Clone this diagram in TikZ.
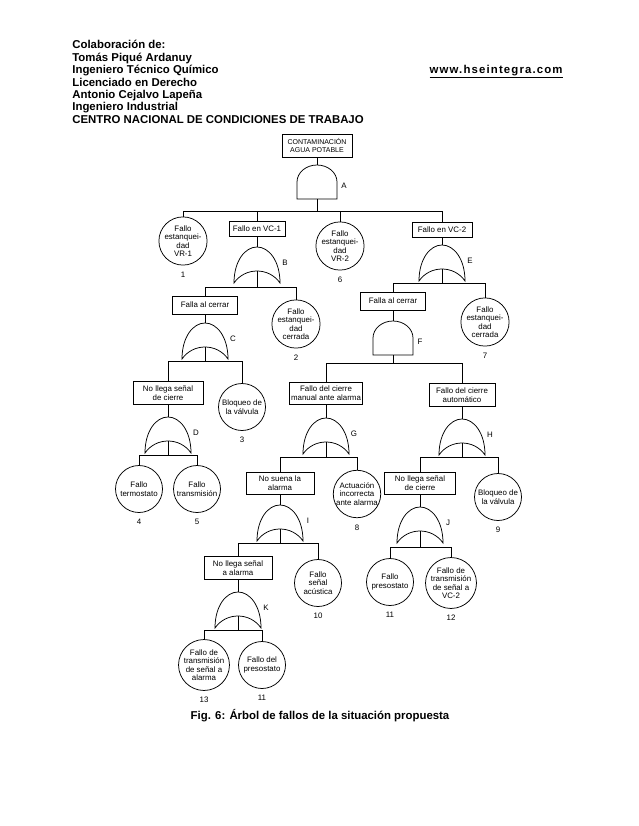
\documentclass[tikz,border=0pt]{standalone}
\usepackage{fontspec}
\setmainfont{Liberation Sans}
\usetikzlibrary{calc}
\newcommand{\dfont}{\fontsize{7.9}{8.4}\selectfont}
\newcommand{\tfont}{\fontsize{7}{8}\selectfont}
\newcommand{\hfont}{\fontsize{11.4}{13}\selectfont\bfseries}
\tikzset{
  pics/orgate/.style={code={
    \draw (-23,36) .. controls (-23,14) and (-12,0) .. (0,0) .. controls (12,0) and (23,14) .. (23,36) .. controls (12,20) and (-12,20) .. cycle;
    \coordinate (-top) at (0,0);
    \coordinate (-out) at (0,24);
    \node[gatelbl] (-lbl) at (28,16) {#1};
  }},
  pics/andgate/.style={code={
    \draw (-20,34) -- (-20,17) .. controls (-20,7.6) and (-11,0) .. (0,0) .. controls (11,0) and (20,7.6) .. (20,17) -- (20,34) -- cycle;
    \coordinate (-top) at (0,0);
    \coordinate (-out) at (0,34);
    \node[gatelbl] (-lbl) at (27,21) {#1};
  }},
}
\begin{document}
\begin{tikzpicture}[x=1pt,y=-1pt, line width=0.75pt,
  box/.style={draw, inner sep=1pt, align=center, font=\dfont},
  evt/.style={draw, circle, minimum size=47pt, inner sep=0pt, align=center, font=\dfont},
  num/.style={font=\dfont, inner sep=0pt, anchor=north},
  gatelbl/.style={font=\dfont, inner sep=0pt},
  hdr/.style={font=\hfont, anchor=base west, inner sep=0pt},
]
\fill[white] (0,0) rectangle (638,826);
\useasboundingbox (0,0) rectangle (638,826);

% header
\node[hdr] (h1) at (72,49) {Colaboración de:};
\node[hdr] (h2) at (72,61.4) {Tomás Piqué Ardanuy};
\node[hdr] (h3) at (72,73.8) {Ingeniero Técnico Químico};
\node[hdr] (h4) at (72,86.2) {Licenciado en Derecho};
\node[hdr] (h5) at (72,98.6) {Antonio Cejalvo Lapeña};
\node[hdr] (h6) at (72,111) {Ingeniero Industrial};
\node[hdr] (h7) at (72,123.4) {CENTRO NACIONAL DE CONDICIONES DE TRABAJO};
\node[hdr, anchor=base east] (url) at (563,73.8) {\addfontfeatures{LetterSpace=10}\underline{www.hseintegra.com}};

% boxes
\node[box, font=\tfont, minimum width=70pt, minimum height=23pt] (top) at (317,146) {CONTAMINACIÓN\\AGUA POTABLE};
\node[box, minimum width=56pt, minimum height=15pt] (vc1) at (257,229) {Fallo en VC-1};
\node[box, minimum width=60pt, minimum height=15pt] (vc2) at (442,230) {Fallo en VC-2};
\node[box, minimum width=65pt, minimum height=18pt] (fc1) at (205,305) {Falla al cerrar};
\node[box, minimum width=65pt, minimum height=18pt] (fc2) at (393,301) {Falla al cerrar};
\node[box, minimum width=70pt, minimum height=23pt] (nls1) at (168,393) {No llega señal\\de cierre};
\node[box, minimum width=73pt, minimum height=22pt] (man) at (326,393) {Fallo del cierre\\manual ante alarma};
\node[box, minimum width=66pt, minimum height=23pt] (aut) at (462,395) {Fallo del cierre\\automático};
\node[box, minimum width=68pt, minimum height=22pt] (nsa) at (280,483) {No suena la\\alarma};
\node[box, minimum width=71pt, minimum height=22pt] (nls2) at (420,483) {No llega señal\\de cierre};
\node[box, minimum width=68pt, minimum height=23pt] (nlsa) at (238,568) {No llega señal\\a alarma};

% basic events
\node[evt] (c1) at (183,241) {Fallo\\estanquei-\\dad\\VR-1};
\node[evt] (c6) at (340,246) {Fallo\\estanquei-\\dad\\VR-2};
\node[evt] (c2) at (296,324) {Fallo\\estanquei-\\dad\\cerrada};
\node[evt] (c7) at (485,322) {Fallo\\estanquei-\\dad\\cerrada};
\node[evt] (c3) at (242,407) {Bloqueo de\\la válvula};
\node[evt] (c4) at (139,489) {Fallo\\termostato};
\node[evt] (c5) at (197,489) {Fallo\\transmisión};
\node[evt] (c8) at (357,494) {Actuación\\incorrecta\\ante alarma};
\node[evt] (c9) at (498,497) {Bloqueo de\\la válvula};
\node[evt] (c10) at (318,583) {Fallo\\señal\\acústica};
\node[evt] (c11) at (390,582) {Fallo\\presostato};
\node[evt] (c12) at (451,583) {Fallo de\\transmisión\\de señal a\\VC-2};
\node[evt] (c13) at (204,665) {Fallo de\\transmisión\\de señal a\\alarma};
\node[evt] (c11b) at (262,665) {Fallo del\\presostato};

% numbers
\foreach \c/\n in {c1/1,c6/6,c2/2,c7/7,c3/3,c4/4,c5/5,c8/8,c9/9,c10/10,c11/11,c12/12,c13/13,c11b/11}
  \node[num] (n\c) at ([yshift=-6pt]\c.south) {\n};

% gates
\pic (gA) at (317,165) {andgate=A};
\pic (gB) at (257,247) {orgate=B};
\pic (gC) at (205,323) {orgate=C};
\pic (gD) at (168,417) {orgate=D};
\pic (gE) at (442,245) {orgate=E};
\pic (gF) at (393,321) {andgate=F};
\pic (gG) at (326,418) {orgate=G};
\pic (gH) at (462,419) {orgate=H};
\pic (gI) at (280,505) {orgate=I};
\pic (gJ) at (420,507) {orgate=J};
\pic (gK) at (238,592) {orgate=K};

% junctions
\coordinate (jA) at (317,211);
\coordinate (jB) at (257,287);
\coordinate (jC) at (205,361);
\coordinate (jD) at (168,455);
\coordinate (jE) at (442,283);
\coordinate (jF) at (393,363);
\coordinate (jG) at (326,457);
\coordinate (jH) at (462,457);
\coordinate (jI) at (280,543);
\coordinate (jJ) at (420,547);
\coordinate (jK) at (238,630);

% connectors
\draw (top.south) -- (gA-top);
\draw (gA-out) -- (jA);
\draw (jA) -| (c1.north);
\draw (jA) -| (vc1.north);
\draw (jA) -| (c6.north);
\draw (jA) -| (vc2.north);

\draw (vc1.south) -- (gB-top);
\draw (gB-out) -- (jB);
\draw (jB) -| (fc1.north);
\draw (jB) -| (c2.north);

\draw (fc1.south) -- (gC-top);
\draw (gC-out) -- (jC);
\draw (jC) -| (nls1.north);
\draw (jC) -| (c3.north);

\draw (nls1.south) -- (gD-top);
\draw (gD-out) -- (jD);
\draw (jD) -| (c4.north);
\draw (jD) -| (c5.north);

\draw (vc2.south) -- (gE-top);
\draw (gE-out) -- (jE);
\draw (jE) -| (fc2.north);
\draw (jE) -| (c7.north);

\draw (fc2.south) -- (gF-top);
\draw (gF-out) -- (jF);
\draw (jF) -| (man.north);
\draw (jF) -| (aut.north);

\draw (man.south) -- (gG-top);
\draw (gG-out) -- (jG);
\draw (jG) -| (nsa.north);
\draw (jG) -| (c8.north);

\draw (aut.south) -- (gH-top);
\draw (gH-out) -- (jH);
\draw (jH) -| (nls2.north);
\draw (jH) -| (c9.north);

\draw (nsa.south) -- (gI-top);
\draw (gI-out) -- (jI);
\draw (jI) -| (nlsa.north);
\draw (jI) -| (c10.north);

\draw (nls2.south) -- (gJ-top);
\draw (gJ-out) -- (jJ);
\draw (jJ) -| (c11.north);
\draw (jJ) -| (c12.north);

\draw (nlsa.south) -- (gK-top);
\draw (gK-out) -- (jK);
\draw (jK) -| (c13.north);
\draw (jK) -| (c11b.north);

% caption
\node[font=\hfont, inner sep=0pt] (cap) at (320,716) {Fig. 6: Árbol de fallos de la situación propuesta};
\end{tikzpicture}
\end{document}
